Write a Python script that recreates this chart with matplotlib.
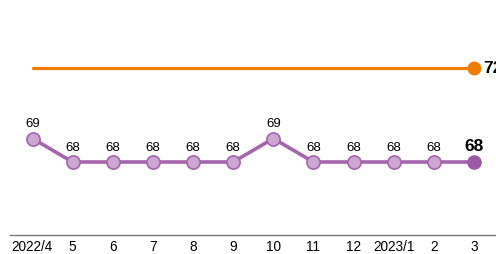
import matplotlib
matplotlib.use("Agg")
import matplotlib.pyplot as plt

labels = ["2022/4", "5", "6", "7", "8", "9", "10", "11", "12", "2023/1", "2", "3"]
purple_vals = [69, 68, 68, 68, 68, 68, 69, 68, 68, 68, 68, 68]
orange_vals = [72] * 12

plt.rcParams['font.family'] = ['Liberation Sans', 'DejaVu Sans']

W, H = 496, 255
fig = plt.figure(figsize=(W / 100, H / 100), dpi=100)
ax = fig.add_axes([10 / W, 1 - 236 / H, 486 / W, 236 / H])

x = list(range(len(labels)))
px_per_idx = (474 - 32.5) / 11
x0 = (10 - 32.5) / px_per_idx
x1 = (496 - 32.5) / px_per_idx
ax.set_xlim(x0, x1)
ppu = 23.5
ax.set_ylim(68 - (236 - 163) / ppu, 68 + 163 / ppu)

orange = "#ef7b00"
pline = "#a565ad"
pface = "#cba7d2"
pdark = "#9c5aa6"

ax.plot(x, orange_vals, color=orange, lw=2.3, solid_capstyle='round', zorder=2)
ax.plot([x[-1]], [orange_vals[-1]], 'o', ms=9, color=orange, zorder=3)
ax.text(x[-1] + 0.22, orange_vals[-1], str(orange_vals[-1]), fontsize=12.5,
        fontweight='bold', va='center', ha='left', color='black')

ax.plot(x, purple_vals, color=pline, lw=2.6, zorder=2)
ax.plot(x[:-1], purple_vals[:-1], 'o', ms=9.5, mfc=pface, mec=pline, mew=1.2, zorder=3)
ax.plot([x[-1]], [purple_vals[-1]], 'o', ms=9.5, mfc=pdark, mec=pdark, zorder=3)

for i, v in enumerate(purple_vals):
    if i == len(purple_vals) - 1:
        ax.text(x[i], v + 0.40, str(v), fontsize=12.5, fontweight='bold',
                ha='center', va='bottom', color='black')
    else:
        ax.text(x[i], v + 0.40, str(v), fontsize=9.5, ha='center', va='bottom',
                color='black')

ax.set_xticks(x)
ax.set_xticklabels(labels, fontsize=9.8)
ax.tick_params(axis='x', length=0, pad=3)
ax.set_yticks([])
for s in ['top', 'right', 'left']:
    ax.spines[s].set_visible(False)
ax.spines['bottom'].set_color('#777777')
ax.spines['bottom'].set_linewidth(1.0)

fig.savefig("out.png", dpi=100)
